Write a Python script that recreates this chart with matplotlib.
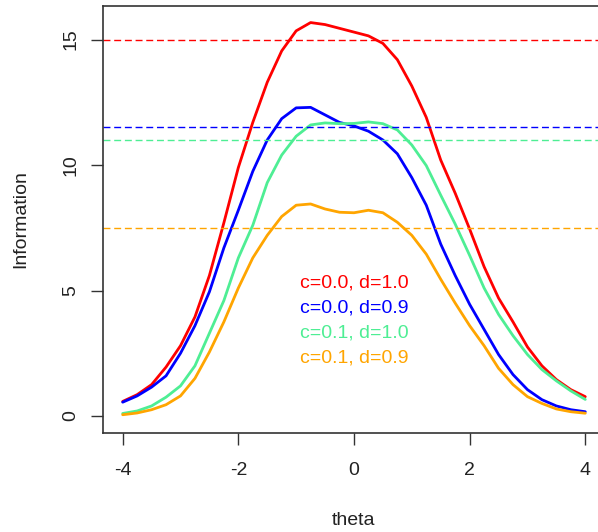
import matplotlib
matplotlib.use("Agg")
import matplotlib.pyplot as plt

plt.rcParams['font.family'] = ['Liberation Sans', 'DejaVu Sans']
plt.rcParams['axes.unicode_minus'] = False

# theta grid and information curves
theta = [-4.0, -3.75, -3.5, -3.25, -3.0, -2.75, -2.5, -2.25, -2.0, -1.75, -1.5,
         -1.25, -1.0, -0.75, -0.5, -0.25, 0.0, 0.25, 0.5, 0.75, 1.0, 1.25,
         1.5, 1.75, 2.0, 2.25, 2.5, 2.75, 3.0, 3.25, 3.5, 3.75, 4.0]

info_c00_d10 = [0.58, 0.85, 1.25, 1.95, 2.8, 3.95, 5.6, 7.7, 9.9, 11.7, 13.3,
                14.55, 15.35, 15.68, 15.6, 15.45, 15.3, 15.15, 14.85, 14.2, 13.15, 11.9,
                10.2, 8.88, 7.45, 5.95, 4.7, 3.75, 2.75, 2.0, 1.45, 1.05, 0.77]
info_c00_d09 = [0.55, 0.8, 1.15, 1.6, 2.5, 3.6, 4.95, 6.7, 8.2, 9.75, 11.0,
                11.85, 12.28, 12.3, 12.0, 11.7, 11.56, 11.35, 11.0, 10.45, 9.5, 8.4,
                6.85, 5.6, 4.45, 3.45, 2.45, 1.65, 1.05, 0.65, 0.4, 0.25, 0.17]
info_c01_d10 = [0.1, 0.2, 0.4, 0.75, 1.2, 2.0, 3.3, 4.6, 6.3, 7.6, 9.3,
                10.4, 11.15, 11.6, 11.68, 11.65, 11.66, 11.72, 11.65, 11.4, 10.8, 9.98,
                8.8, 7.65, 6.4, 5.1, 4.05, 3.2, 2.45, 1.85, 1.4, 1.0, 0.66]
info_c01_d09 = [0.05, 0.12, 0.25, 0.45, 0.8, 1.5, 2.55, 3.75, 5.1, 6.3, 7.2,
                7.95, 8.4, 8.45, 8.25, 8.12, 8.1, 8.2, 8.1, 7.72, 7.2, 6.45,
                5.45, 4.5, 3.6, 2.8, 1.9, 1.25, 0.77, 0.5, 0.28, 0.17, 0.11]

max_info = [15.0, 11.5, 11.0, 7.5]
labels = ['c=0.0, d=1.0', 'c=0.0, d=0.9', 'c=0.1, d=1.0', 'c=0.1, d=0.9']
label_y = [5.5, 4.5, 3.5, 2.5]
colors = ['#FF0000', '#0000FF', '#4EEE94', '#FFA500']

curves = [info_c00_d10, info_c00_d09, info_c01_d10, info_c01_d09]

fig = plt.figure(figsize=(5.98, 5.32), dpi=100)
ax = fig.add_axes([103.3 / 598, 1 - 432.7 / 532, 500.5 / 598, 426.7 / 532])

for vals, col in zip(curves, colors):
    ax.plot(theta, vals, color=col, lw=2.0, solid_joinstyle='round',
            solid_capstyle='round')

for h, col in zip(max_info, colors):
    ax.axhline(h, color=col, lw=1.0, linestyle=(0, (5, 2.7)))

for txt, yy, col in zip(labels, label_y, colors):
    ax.text(0, yy - 0.38, txt, color=col, fontsize=14, ha='center', va='baseline')

ax.set_xlim(-4.335, 4.32)
ax.set_ylim(-0.666, 16.34)
ax.set_xticks([-4, -2, 0, 2, 4])
ax.set_yticks([0, 5, 10, 15])

for s in ax.spines.values():
    s.set_color('#333333')
    s.set_linewidth(1.2)

ax.tick_params(axis='both', direction='out', length=8.4, width=1.0,
               color='#333333', labelsize=14, labelcolor='#222222')
ax.tick_params(axis='x', pad=13)
ax.tick_params(axis='y', pad=9)
for lab in ax.get_yticklabels():
    lab.set_rotation(90)
    lab.set_va('center')

ax.set_xlabel('theta', fontsize=14, color='#222222', va='center')
ax.set_ylabel('Information', fontsize=14, color='#222222', va='center')
ax.xaxis.set_label_coords(0.5, -0.2046)
ax.yaxis.set_label_coords(-0.1654, 0.5)

fig.savefig('out.png', dpi=100)
